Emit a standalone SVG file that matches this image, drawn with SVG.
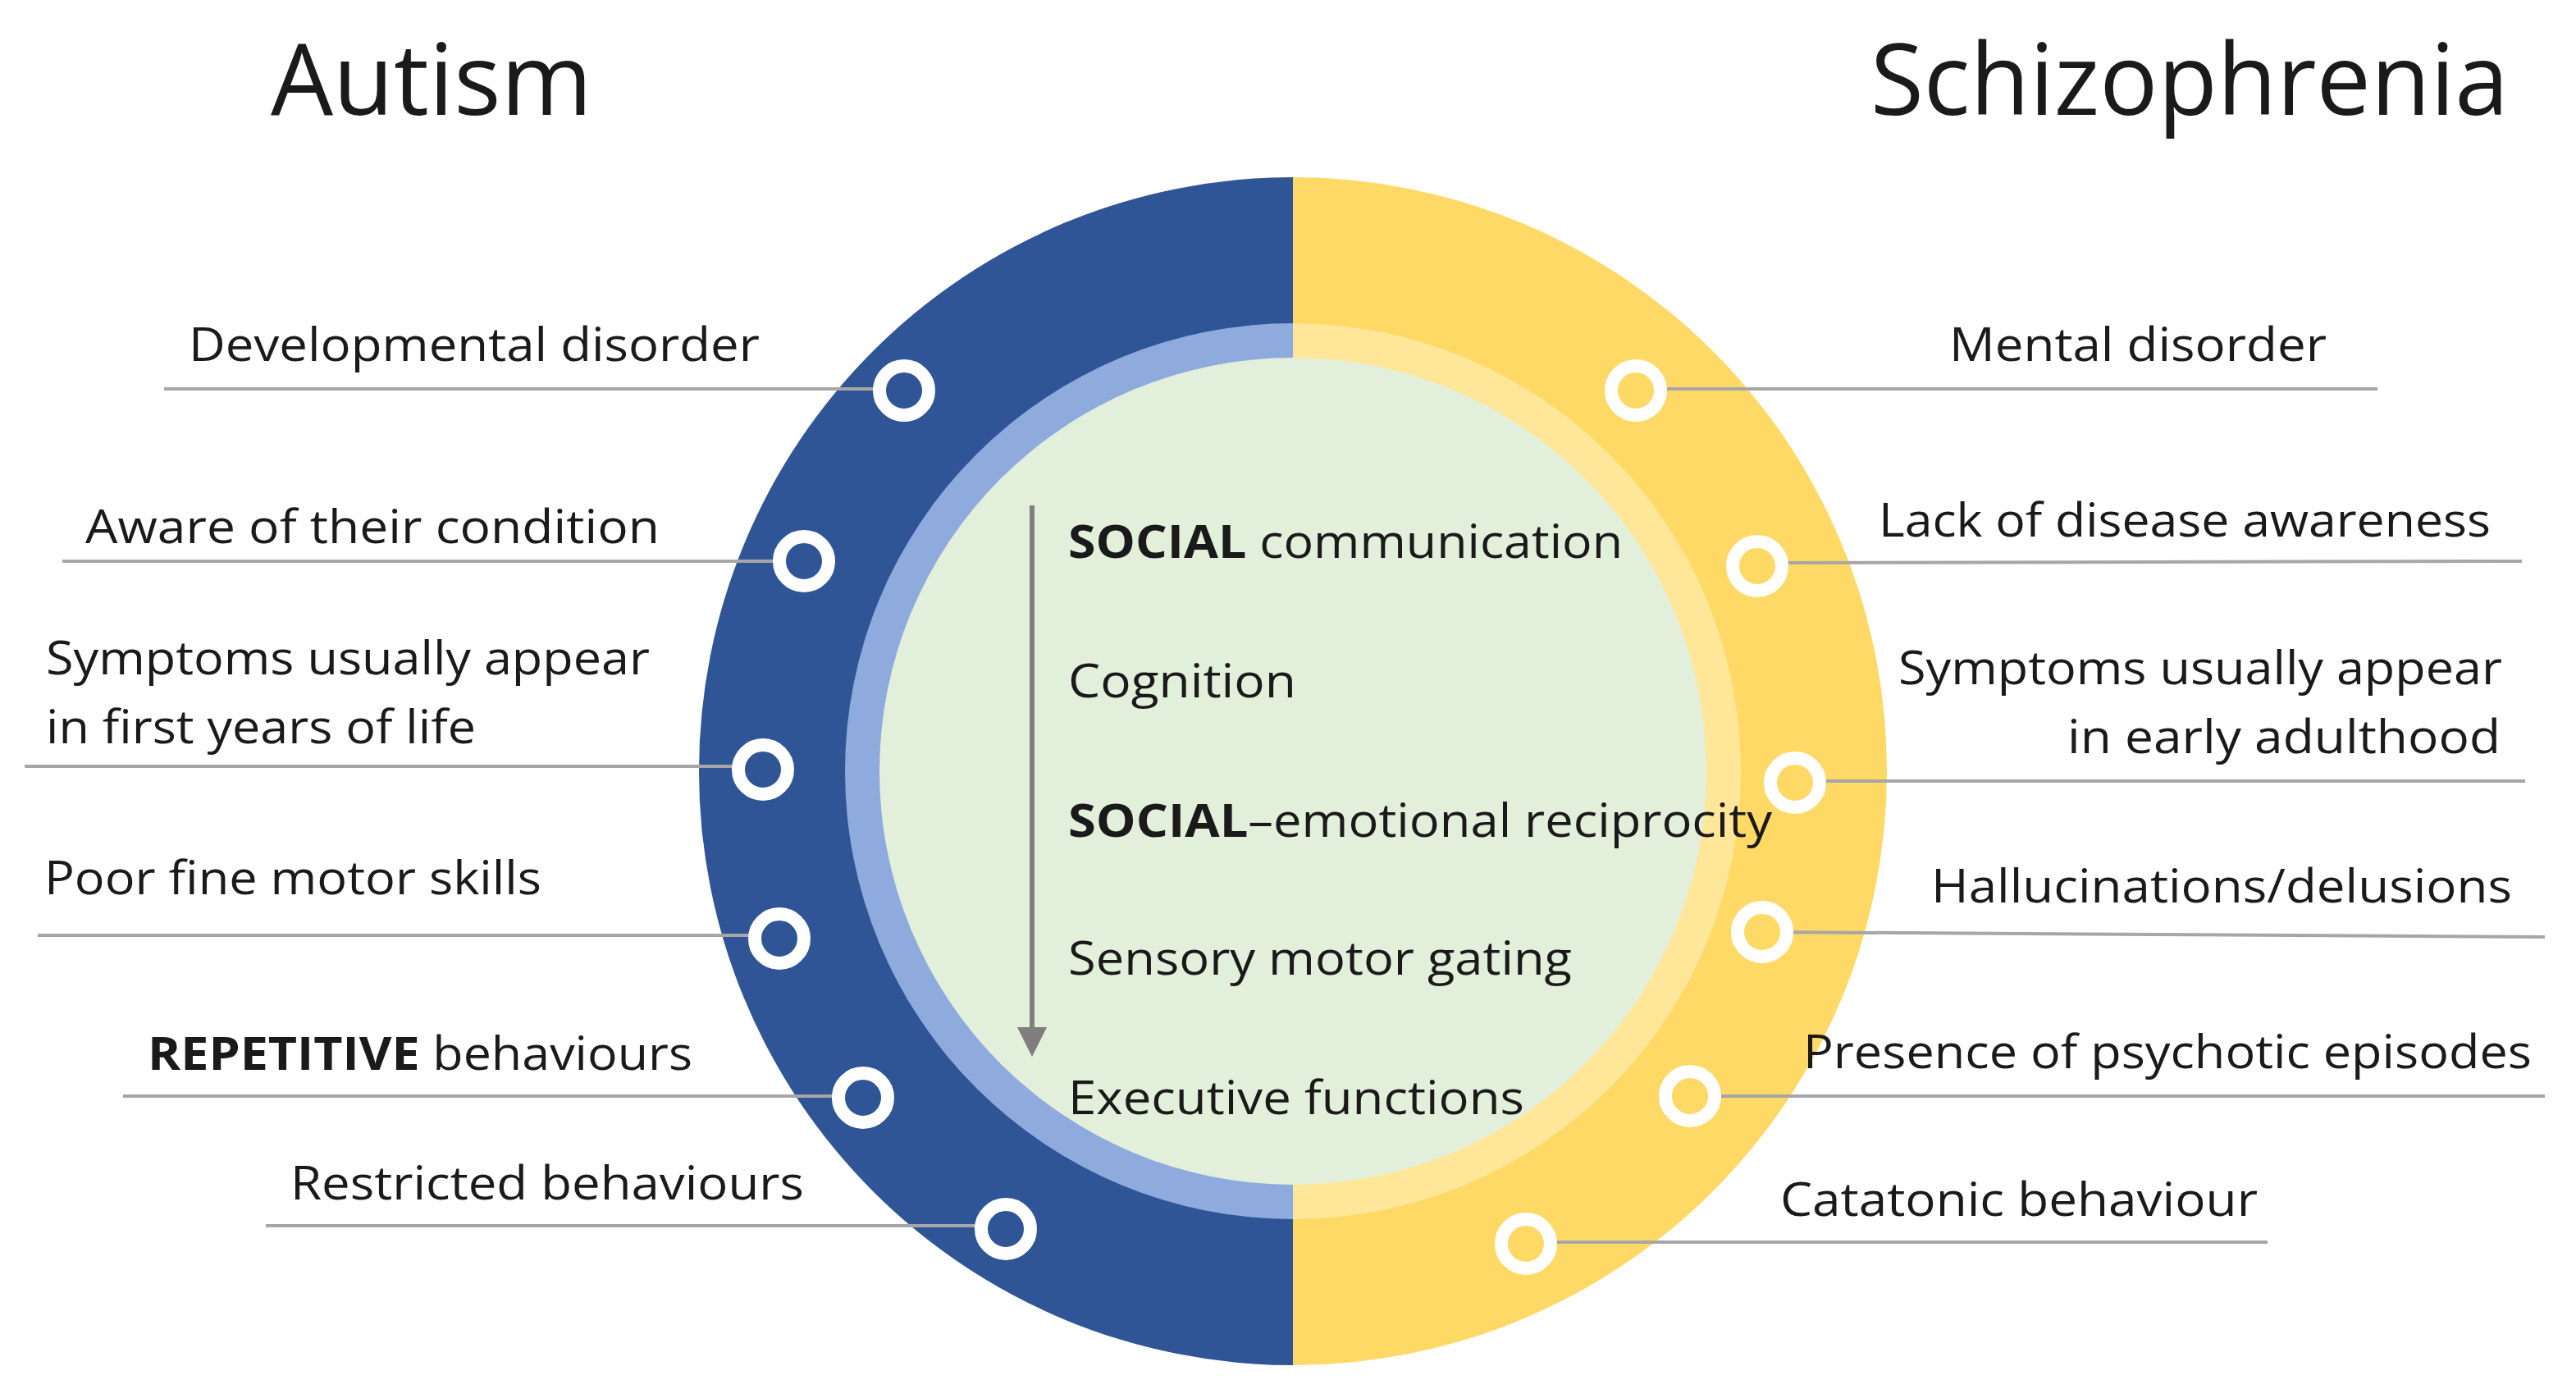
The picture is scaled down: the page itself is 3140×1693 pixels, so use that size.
<svg xmlns="http://www.w3.org/2000/svg" width="3140" height="1693" viewBox="0 0 3140 1693">
<style>
text{font-family:"Open Sans","Liberation Sans",sans-serif;fill:#1a1a1a;font-size:56px}
.t{font-size:120px}
.c{font-size:56px}
.b{font-weight:bold}
.l{stroke:#A6A6A6;stroke-width:4;fill:none}
.db{fill:#2F5597;stroke:#fff;stroke-width:16}
.dy{fill:#FFD966;stroke:#fff;stroke-width:16}
</style>
<defs><marker id="ah" markerWidth="6" markerHeight="6" refX="3" refY="3" orient="auto" markerUnits="strokeWidth"><path d="M0,0L6,3L0,6z" fill="#7F7F7F"/></marker></defs>
<rect width="3140" height="1693" fill="#fff"/>
<text class="t" x="330" y="140" textLength="392" lengthAdjust="spacingAndGlyphs">Autism</text>
<text class="t" x="2280" y="140" textLength="778" lengthAdjust="spacingAndGlyphs">Schizophrenia</text>
<g id="circle">
<path d="M1576,216 A724,724 0 0 0 1576,1664 Z" fill="#2F5597"/>
<path d="M1576,216 A724,724 0 0 1 1576,1664 Z" fill="#FFD966"/>
<path d="M1576,394 A546,546 0 0 0 1576,1486 Z" fill="#8FAADC"/>
<path d="M1576,394 A546,546 0 0 1 1576,1486 Z" fill="#FFE699"/>
<circle cx="1576" cy="940" r="504" fill="#E2EFDA"/>
</g>
<g id="connectors">
<line class="l" x1="200" y1="474" x2="1102" y2="474"/>
<line class="l" x1="76" y1="684" x2="980" y2="684"/>
<line class="l" x1="30" y1="934" x2="930" y2="934"/>
<line class="l" x1="46" y1="1140" x2="950" y2="1140"/>
<line class="l" x1="150" y1="1336" x2="1052" y2="1336"/>
<line class="l" x1="324" y1="1494" x2="1226" y2="1494"/>
<line class="l" x1="1994" y1="474" x2="2898" y2="474"/>
<line class="l" x1="2142" y1="686" x2="3074" y2="684"/>
<line class="l" x1="2188" y1="952" x2="3078" y2="952"/>
<line class="l" x1="2148" y1="1136" x2="3102" y2="1142"/>
<line class="l" x1="2060" y1="1336" x2="3102" y2="1336"/>
<line class="l" x1="1860" y1="1514" x2="2764" y2="1514"/>
<line x1="1258" y1="616" x2="1258" y2="1270" stroke="#7F7F7F" stroke-width="6" marker-end="url(#ah)"/>
</g>
<g id="left">
<circle class="db" cx="1102" cy="476" r="30"/><text x="230" y="440" textLength="696" lengthAdjust="spacingAndGlyphs">Developmental disorder</text>
<circle class="db" cx="980" cy="684" r="30"/><text x="104" y="662" textLength="700" lengthAdjust="spacingAndGlyphs">Aware of their condition</text>
<circle class="db" cx="930" cy="938" r="30"/><text x="56" y="822" textLength="736" lengthAdjust="spacingAndGlyphs">Symptoms usually appear</text><text x="56" y="906" textLength="524" lengthAdjust="spacingAndGlyphs">in first years of life</text>
<circle class="db" cx="950" cy="1144" r="30"/><text x="54" y="1090" textLength="606" lengthAdjust="spacingAndGlyphs">Poor fine motor skills</text>
<circle class="db" cx="1052" cy="1338" r="30"/><text x="180" y="1304" textLength="664" lengthAdjust="spacingAndGlyphs"><tspan class="b">REPETITIVE</tspan> behaviours</text>
<circle class="db" cx="1226" cy="1498" r="30"/><text x="354" y="1462" textLength="626" lengthAdjust="spacingAndGlyphs">Restricted behaviours</text>
</g>
<g id="right">
<circle class="dy" cx="1994" cy="476" r="30"/><text x="2376" y="440" textLength="460" lengthAdjust="spacingAndGlyphs">Mental disorder</text>
<circle class="dy" cx="2142" cy="690" r="30"/><text x="2290" y="654" textLength="746" lengthAdjust="spacingAndGlyphs">Lack of disease awareness</text>
<circle class="dy" cx="2188" cy="954" r="30"/><text x="2314" y="834" textLength="736" lengthAdjust="spacingAndGlyphs">Symptoms usually appear</text><text x="2520" y="918" textLength="528" lengthAdjust="spacingAndGlyphs">in early adulthood</text>
<circle class="dy" cx="2148" cy="1136" r="30"/><text x="2354" y="1100" textLength="708" lengthAdjust="spacingAndGlyphs">Hallucinations/delusions</text>
<circle class="dy" cx="2060" cy="1336" r="30"/><text x="2198" y="1302" textLength="888" lengthAdjust="spacingAndGlyphs">Presence of psychotic episodes</text>
<circle class="dy" cx="1860" cy="1516" r="30"/><text x="2170" y="1482" textLength="582" lengthAdjust="spacingAndGlyphs">Catatonic behaviour</text>
</g>
<g id="center">
<text class="c" x="1302" y="680" textLength="676" lengthAdjust="spacingAndGlyphs"><tspan class="b">SOCIAL</tspan> communication</text>
<text class="c" x="1302" y="850" textLength="278" lengthAdjust="spacingAndGlyphs">Cognition</text>
<text class="c" x="1302" y="1020" textLength="858" lengthAdjust="spacingAndGlyphs"><tspan class="b">SOCIAL</tspan>–emotional reciprocity</text>
<text class="c" x="1302" y="1188" textLength="614" lengthAdjust="spacingAndGlyphs">Sensory motor gating</text>
<text class="c" x="1302" y="1358" textLength="556" lengthAdjust="spacingAndGlyphs">Executive functions</text>
</g>
</svg>
